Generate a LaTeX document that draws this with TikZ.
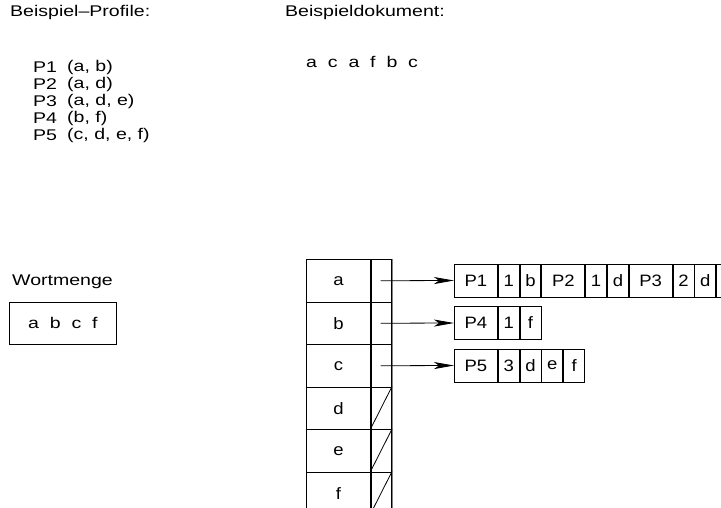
\documentclass[tikz,border=0pt]{standalone}
\usepackage{fontspec}
\setmainfont{Liberation Sans}
\newfontfamily\lblfont[FakeStretch=1.26]{Liberation Sans}
\newfontfamily\tblfont[FakeStretch=1.12]{Liberation Sans}
\usetikzlibrary{arrows.meta}
\begin{document}
\begin{tikzpicture}[x=1pt,y=-1pt,
  every node/.style={font=\tblfont\fontsize{16.5}{20}\selectfont},
  txt/.style={anchor=west,inner sep=0pt,font=\lblfont\fontsize{15.5}{18}\selectfont},
  keycell/.style={draw,line width=1pt,minimum width=64pt,minimum height=42.5pt,inner sep=0pt,anchor=north west},
  ptrcell/.style={draw,line width=1pt,minimum width=21pt,minimum height=42.5pt,inner sep=0pt,anchor=north west},
  pcell/.style={draw,line width=0.8pt,minimum width=43pt,minimum height=33pt,inner sep=0pt,anchor=west},
  scell/.style={draw,line width=0.8pt,minimum width=21pt,minimum height=33pt,inner sep=0pt,anchor=west},
  ptr/.style={line width=0.8pt,-{Stealth[length=20pt,width=7pt,inset=5pt]}},
  nilslash/.style={line width=0.8pt},
  sep/.style={line width=2pt}
]
\clip (0,0) rectangle (721,508);
\useasboundingbox (0,0) rectangle (721,508);

% top texts
\node[txt] (hp) at (10,12) {Beispiel–Profile:};
\node[txt] (hd) at (285,12) {Beispieldokument:};
\node[txt] (p1) at (33,67) {P1};
\node[txt] (p2) at (33,84) {P2};
\node[txt] (p3) at (33,101) {P3};
\node[txt] (p4) at (33,118) {P4};
\node[txt] (p5) at (33,135) {P5};
\node[txt] (l1) at (67,67) {(a, b)};
\node[txt] (l2) at (67,84) {(a, d)};
\node[txt] (l3) at (67,101) {(a, d, e)};
\node[txt] (l4) at (67,118) {(b, f)};
\node[txt] (l5) at (67,135) {(c, d, e, f)};
\node[txt] (doc) at (306,62) {a\ \ c\ \ a\ \ f\ \ b\ \ c};

% Wortmenge
\node[txt] (wm) at (12,282) {Wortmenge};
\node[draw,line width=0.8pt,minimum width=107pt,minimum height=42.5pt,inner sep=0pt,anchor=north west,font=\lblfont\fontsize{15.5}{18}\selectfont] (wbox) at (9,301.5) {a\ \ b\ \ c\ \ f};

% table
\foreach \k/\l in {0/a,1/b,2/c,3/d,4/e,5/f}{
  \node[keycell] (k\l) at (306,259+42.5*\k) {\l};
  \node[ptrcell] (q\l) at (370,259+42.5*\k) {};
}
\draw[gray,line width=1pt] (qa.north east) -- (qf.south east);
\draw[sep] (ka.north east) -- (kf.south east);
\foreach \l in {d,e,f}{\draw[nilslash] (q\l.south west) -- (q\l.north east);}

% lists
\node[pcell] (a1) at (454,280.5) {P1};
\node[scell,anchor=west] (a2) at (a1.east) {1};
\node[scell,anchor=west] (a3) at (a2.east) {b};
\node[pcell,anchor=west] (a4) at (a3.east) {P2};
\node[scell,anchor=west] (a5) at (a4.east) {1};
\node[scell,anchor=west] (a6) at (a5.east) {d};
\node[pcell,anchor=west] (a7) at (a6.east) {P3};
\node[scell,anchor=west] (a8) at (a7.east) {2};
\node[scell,anchor=west] (a9) at (a8.east) {d};
\node[scell,anchor=west] (a10) at (a9.east) {e};
\draw[sep] (a3.north east) -- (a3.south east);
\draw[sep] (a6.north east) -- (a6.south east);

\node[pcell] (b1) at (454,323) {P4};
\node[scell,anchor=west] (b2) at (b1.east) {1};
\node[scell,anchor=west] (b3) at (b2.east) {f};

\node[pcell] (c1) at (454,365.5) {P5};
\node[scell,anchor=west] (c2) at (c1.east) {3};
\node[scell,anchor=west] (c3) at (c2.east) {d};
\node[scell,anchor=west] (c4) at (c3.east) {e};
\node[scell,anchor=west] (c5) at (c4.east) {f};

\draw[ptr] ([xshift=-0.5pt]qa.center) -- (a1.west);
\draw[ptr] ([xshift=-0.5pt]qb.center) -- (b1.west);
\draw[ptr] ([xshift=-0.5pt]qc.center) -- (c1.west);
\end{tikzpicture}
\end{document}
